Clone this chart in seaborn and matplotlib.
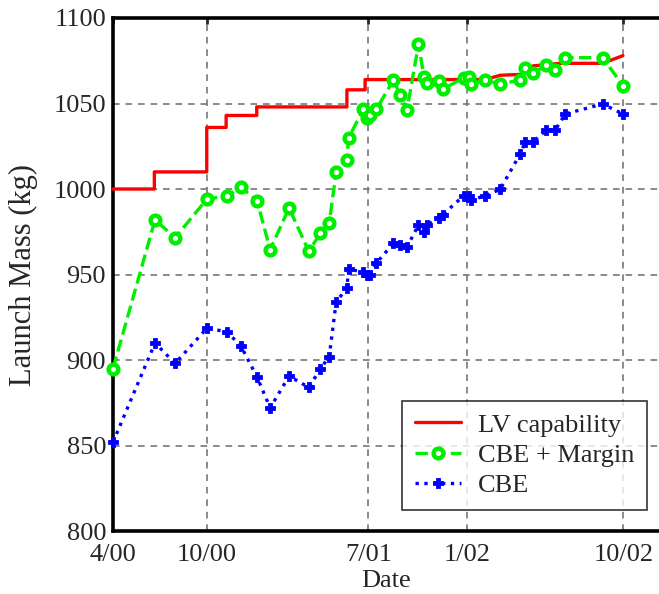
import seaborn as sns
import matplotlib.pyplot as plt
import pandas as pd

sns.set_style('white')
plt.rcParams['font.family'] = ['Liberation Serif', 'DejaVu Serif']
plt.rcParams['font.size'] = 19

# x = months since 4/00 (as placed on the original axis)
tick_pos = [0, 5.51, 15.02, 20.81, 30.0]
tick_lab = ['4/00', '10/00', '7/01', '1/02', '10/02']

# LV capability (step profile)
lv_t = [0, 2.43, 2.43, 5.51, 5.51, 6.65, 6.65, 8.45, 8.45, 13.75, 13.75, 14.82, 14.82,
        21.88, 22.76, 23.94, 24.7, 26.3, 28.79, 29.98]
lv_m = [1000, 1000, 1010, 1010, 1036, 1036, 1043, 1043, 1048, 1048, 1058, 1058, 1064,
        1064, 1066.5, 1067, 1072, 1073.5, 1073.5, 1078]

# CBE and CBE + margin share the same dates
t = [0, 2.47, 3.65, 5.51, 6.69, 7.53, 8.47, 9.24, 10.35, 11.51, 12.18, 12.71, 13.12,
     13.75, 13.85, 14.72, 14.91, 15.12, 15.47, 16.49, 16.88, 17.28, 17.96, 18.29, 18.45,
     19.14, 19.39, 20.61, 20.90, 21.04, 21.88, 22.76, 23.94, 24.24, 24.72, 25.47, 26.0,
     26.59, 28.79, 29.98]
cbe_margin = [895, 982, 971.5, 994, 996, 1001, 993, 964.5, 989, 963.5, 974, 980, 1010,
              1017, 1030, 1046.5, 1041.5, 1043, 1046.5, 1063.7, 1055, 1046, 1084.6, 1065.3, 1062,
              1063, 1058.3, 1065, 1065.5, 1061.5, 1063.7, 1061.4, 1063.7, 1070.6, 1067.7, 1072.5, 1069.6,
              1076.8, 1076.8, 1060.4]
cbe = [852, 910, 898, 918.5, 916.6, 908, 890, 872, 890.6, 884, 894.6, 902, 934,
       942, 953, 951.6, 949.7, 950, 956.6, 968.2, 967, 966, 979, 975, 979,
       983, 985, 996, 996, 993.6, 996, 999.8, 1020.5, 1027.7, 1027.7, 1034.5, 1034.5,
       1043.9, 1049.7, 1043.9]

lv = pd.DataFrame({'t': lv_t, 'm': lv_m})
est = pd.DataFrame({'t': t, 'margin': cbe_margin, 'cbe': cbe})

fig = plt.figure(figsize=(6.59, 5.94), dpi=100)
ax = fig.add_axes([0.1715, 0.106, 0.8285, 0.8637])

sns.lineplot(data=lv, x='t', y='m', estimator=None, sort=False, ax=ax,
             color='#ff0000', lw=2.4, label='LV capability', zorder=3, clip_on=False)
sns.lineplot(data=est, x='t', y='margin', estimator=None, sort=False, ax=ax,
             color='#00ee00', lw=2.4, linestyle='--', marker='o', ms=7, mew=3.2,
             mfc='white', mec='#00ee00', label='CBE + Margin', zorder=3, clip_on=False)
sns.lineplot(data=est, x='t', y='cbe', estimator=None, sort=False, ax=ax,
             color='#0000ff', lw=2.4, linestyle=':', marker='P', ms=6.5, mew=0.6,
             mec='#0000ff', label='CBE', zorder=3, clip_on=False)

ax.set_xlim(0, 32.1)
ax.set_ylim(800, 1100)
ax.set_xticks(tick_pos)
ax.set_xticklabels(tick_lab)
ax.set_yticks(range(800, 1101, 50))
ax.set_xlabel('Date', labelpad=3, fontsize=19)
ax.set_ylabel('Launch Mass (kg)', labelpad=11, fontsize=22)

ax.set_axisbelow(True)
ax.grid(True, color='#777777', linestyle=(0, (4, 3.5)), lw=1.2)
for s in ['left', 'top', 'bottom']:
    ax.spines[s].set_linewidth(2.6)
    ax.spines[s].set_color('black')
ax.spines['right'].set_visible(False)
ax.tick_params(direction='in', length=4, width=2, top=True, labelsize=19)
ax.tick_params(axis='x', pad=9)
ax.tick_params(axis='y', pad=5)

leg = ax.legend(loc='lower right', bbox_to_anchor=(0.978, 0.041), borderaxespad=0,
                frameon=True, fancybox=False, edgecolor='black', fontsize=19,
                handlelength=1.75, labelspacing=0.26, borderpad=0.48, handletextpad=0.65)
leg.get_frame().set_linewidth(1.2)

fig.savefig('out.png', dpi=100)
